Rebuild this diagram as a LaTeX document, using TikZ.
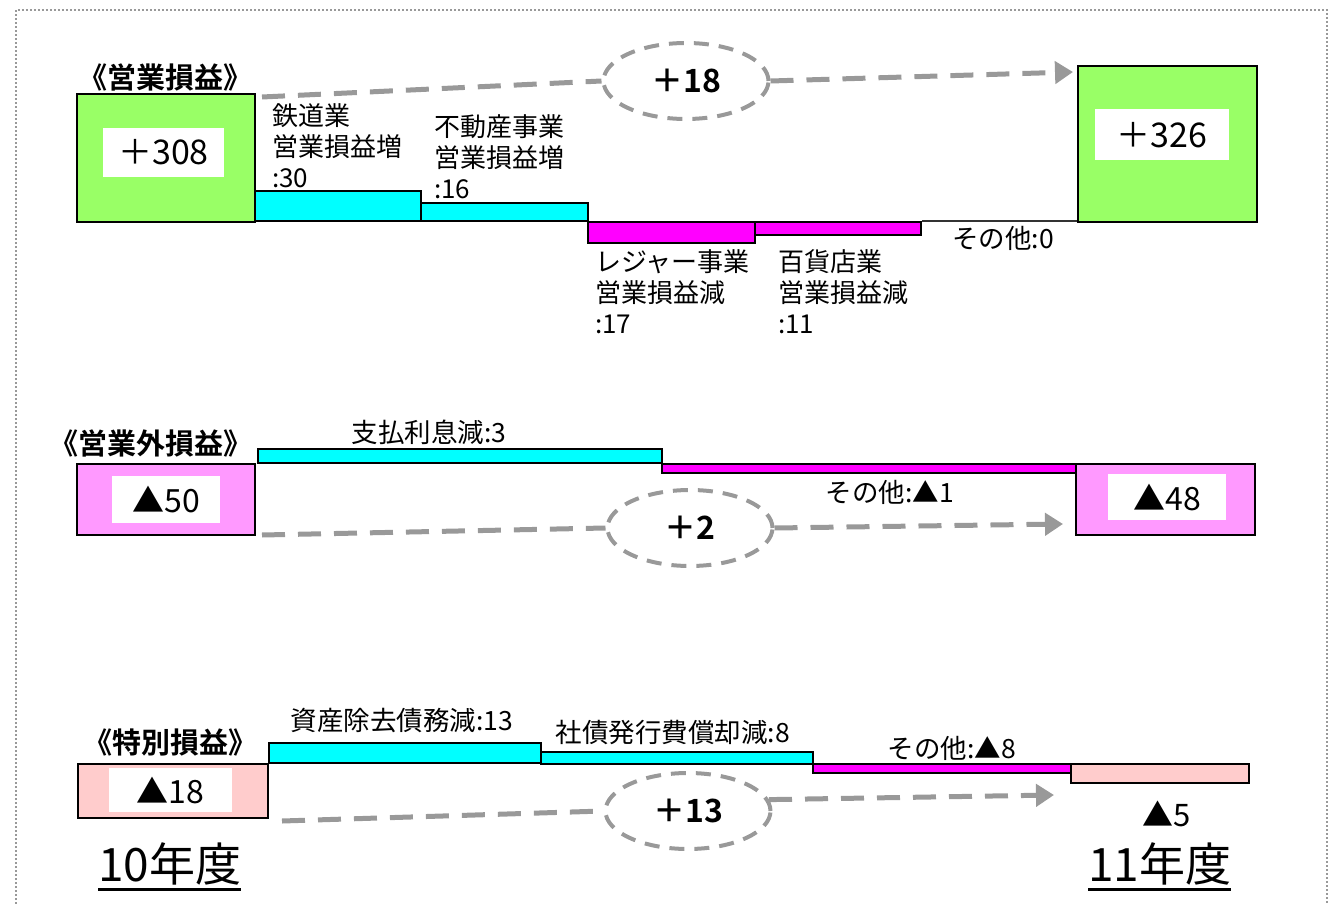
\documentclass[tikz,border=0pt]{standalone}
\usepackage{fontspec}
\newfontfamily\jp{Noto Sans CJK JP}
\newfontfamily\jpb{Noto Sans CJK JP Bold}
\usetikzlibrary{shapes.geometric,arrows.meta,calc}
\definecolor{grn}{HTML}{99FF66}
\definecolor{cyn}{HTML}{00FFFF}
\definecolor{mag}{HTML}{FF00FF}
\definecolor{pnk}{HTML}{FF99FF}
\definecolor{ppk}{HTML}{FFCCCC}
\definecolor{gry}{HTML}{999999}
\begin{document}
\begin{tikzpicture}[x=1pt,y=-1pt,
  box/.style={draw=black,line width=2pt,inner sep=0pt,anchor=north west},
  wbox/.style={fill=white,inner sep=0pt,font=\jp\fontsize{34}{38}\selectfont},
  nbox/.style={fill=white,inner sep=0pt,font=\jp\fontsize{32}{36}\selectfont},
  ell/.style={ellipse,draw=gry,line width=4pt,dash pattern=on 15pt off 10pt,minimum width=165pt,minimum height=76pt,inner sep=0pt,font=\jpb\fontsize{32}{36}\selectfont},
  dl/.style={draw=gry,line width=5pt,dash pattern=on 23pt off 13pt},
  da/.style={dl,-{Triangle[length=18pt,width=22pt]}},
  lbl/.style={font=\jp\fontsize{26}{31}\selectfont,align=left,inner sep=0pt,anchor=north west},
  sl/.style={font=\jp\fontsize{26.5}{30}\selectfont,inner sep=0pt},
  ttl/.style={font=\jpb\fontsize{29}{32}\selectfont,inner sep=0pt},
  yr/.style={font=\jp\fontsize{46}{50}\selectfont,inner sep=0pt,anchor=south west}]
\useasboundingbox (0,0) rectangle (1336,904);
% frame
\draw[gry,line width=2pt,dash pattern=on 2pt off 2pt] (16,904) -- (16,10) -- (1327,10) -- (1327,904);

% ===== section 1
\node[ttl] (t1) at (165,77) {《営業損益》};
\node[box,fill=grn,minimum width=178pt,minimum height=128pt] (op1) at (76,93) {};
\node[wbox,minimum width=121pt,minimum height=49pt] (w1) at (163.5,152.5) {＋308};
\node[box,fill=cyn,minimum width=166pt,minimum height=30pt] (c1) at (254,190) {};
\node[box,fill=cyn,minimum width=167pt,minimum height=18pt] (c2) at (420,202) {};
\node[box,fill=mag,minimum width=167pt,minimum height=21pt] (m1) at (587,221) {};
\node[box,fill=mag,minimum width=166pt,minimum height=13pt] (m2) at (754,221) {};
\node[box,fill=grn,minimum width=179pt,minimum height=156pt] (op2) at (1077,65) {};
\node[wbox,minimum width=134pt,minimum height=51pt] (w2) at (1162,135) {＋326};
\draw[line width=1.5pt,black!80] (m2.north east) -- (m2.north east -| op2.west);
\node[lbl] (l1) at (272,103) {鉄道業\\営業損益増\\:30};
\node[lbl] (l2) at (434,114) {不動産事業\\営業損益増\\:16};
\node[lbl] (l3) at (595,249) {レジャー事業\\営業損益減\\:17};
\node[lbl] (l4) at (778,249) {百貨店業\\営業損益減\\:11};
\node[sl] (l5) at (1003,238) {その他:0};
\node[ell] (e1) at (686,81) {＋18};
\draw[dl] ($(op1.north east)+(6,4)$) -- (e1.west);
\draw[da] (e1.east) -- ($(op2.north west)+(-4,7)$);

% ===== section 2
\node[ttl] (t2) at (151,443) {《営業外損益》};
\node[box,fill=pnk,minimum width=178pt,minimum height=71pt] (nb1) at (76,463) {};
\node[nbox,minimum width=108pt,minimum height=47pt] (wn1) at (166,499) {▲50};
\node[box,fill=cyn,minimum width=404pt,minimum height=14pt] (c3) at (257,448) {};
\node[box,fill=mag,minimum width=414pt,minimum height=9pt] (m3) at (661,463) {};
\node[box,fill=pnk,minimum width=179pt,minimum height=71pt] (nb2) at (1075,463) {};
\node[nbox,minimum width=118pt,minimum height=46pt] (wn2) at (1167,497) {▲48};
\node[sl] (l6) at (429,432) {支払利息減:3};
\node[sl] (l7) at (890,492) {その他:▲1};
\node[ell] (e2) at (690,528) {＋2};
\draw[dl] ($(nb1.south east)+(6,-1)$) -- (e2.west);
\draw[da] (e2.east) -- ($(nb2.south west)+(-12,-12)$);

% ===== section 3
\node[ttl] (t3) at (170,742) {《特別損益》};
\node[box,fill=ppk,minimum width=190pt,minimum height=54pt] (sp1) at (77,763) {};
\node[nbox,minimum width=123pt,minimum height=44pt] (ws1) at (170.5,790) {▲18};
\node[box,fill=cyn,minimum width=272pt,minimum height=20pt] (c4) at (268,742) {};
\node[box,fill=cyn,minimum width=272pt,minimum height=12pt] (c5) at (540,751) {};
\node[box,fill=mag,minimum width=258pt,minimum height=9pt] (m4) at (812,763) {};
\node[box,fill=ppk,minimum width=178pt,minimum height=19pt] (sp2) at (1070,763) {};
\node[sl] (l8) at (402,721) {資産除去債務減:13};
\node[sl] (l9) at (673,732) {社債発行費償却減:8};
\node[sl] (l10) at (952,748) {その他:▲8};
\node[font=\jp\fontsize{31}{34}\selectfont,inner sep=0pt] (v5) at (1167,814) {▲5};
\node[ell] (e3) at (688,811) {＋13};
\draw[dl] ($(sp1.south east)+(13,2)$) -- (e3.west);
\draw[da] (e3.8) -- ($(sp2.south west)+(-16,11)$);

% years
\node[yr] (y10) at (98,885) {10年度};
\node[yr] (y11) at (1088,885) {11年度};
\draw[line width=3pt] ($(y10.south west)+(0,4)$) -- ($(y10.south east)+(0,4)$);
\draw[line width=3pt] ($(y11.south west)+(0,4)$) -- ($(y11.south east)+(0,4)$);
\end{tikzpicture}
\end{document}
